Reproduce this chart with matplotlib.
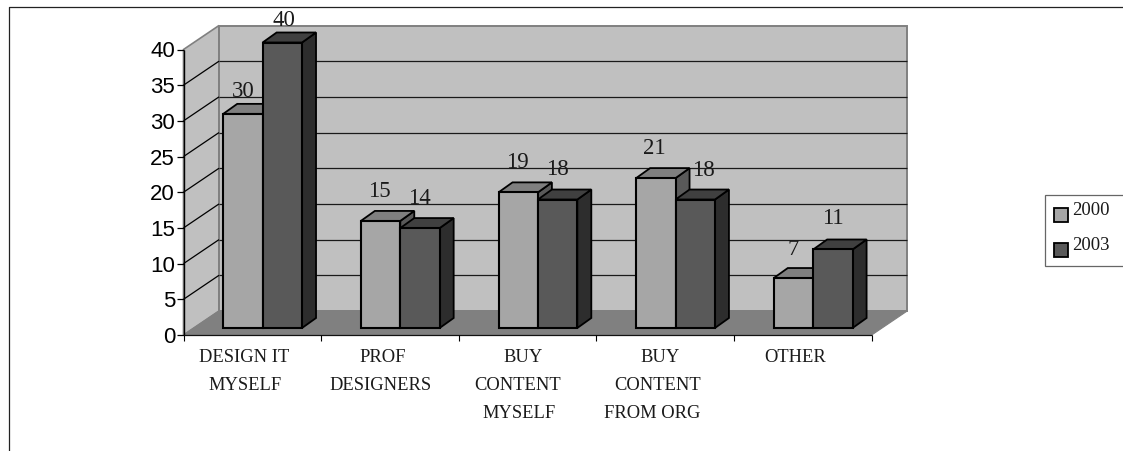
import matplotlib
matplotlib.use("Agg")
import matplotlib.pyplot as plt
from matplotlib.patches import Polygon, Rectangle
from matplotlib.lines import Line2D

categories = [
    ["DESIGN IT", "MYSELF"],
    ["PROF", "DESIGNERS"],
    ["BUY", "CONTENT", "MYSELF"],
    ["BUY", "CONTENT", "FROM ORG"],
    ["OTHER"],
]
series_names = ["2000", "2003"]
values_2000 = [30, 15, 19, 21, 7]
values_2003 = [40, 14, 18, 18, 11]
y_ticks = [0, 5, 10, 15, 20, 25, 30, 35, 40]

W, H = 1123, 451
fig = plt.figure(figsize=(W / 100, H / 100), dpi=100)

# front plane of the fake 3d box, in pixels
left, right, top, bottom = 183.5, 871.7, 49.5, 335.0
ax = fig.add_axes([left / W, 1 - bottom / H, (right - left) / W, (bottom - top) / H])
ax.set_xlim(0, len(categories))
ax.set_ylim(0, 40)
ax.axis("off")

xpx = (right - left) / len(categories)
ypx = (bottom - top) / 40
depth_x = 35.5 / xpx
depth_y = 24 / ypx


def poly(points, face, edge="none", lw=0.0, z=1):
    ax.add_patch(Polygon(points, closed=True, facecolor=face, edgecolor=edge,
                         linewidth=lw, zorder=z, clip_on=False))


def line(xs, ys, color="black", lw=0.9, z=2):
    ax.add_line(Line2D(xs, ys, color=color, linewidth=lw, zorder=z, clip_on=False,
                       solid_capstyle="butt"))


n = len(categories)
# walls and floor
poly([(0, 0), (depth_x, depth_y), (depth_x, 40 + depth_y), (0, 40)], "#c0c0c0", "#808080", 1.2)
poly([(depth_x, depth_y), (n + depth_x, depth_y), (n + depth_x, 40 + depth_y), (depth_x, 40 + depth_y)],
     "#c0c0c0", "#808080", 1.4)
poly([(0, 0), (n, 0), (n + depth_x, depth_y), (depth_x, depth_y)], "#808080", "#808080", 0.8, z=1.5)

# grid lines
for t in y_ticks[1:-1]:
    line([0, depth_x], [t, t + depth_y], z=2)
    line([depth_x, n + depth_x], [t + depth_y, t + depth_y], color="#1a1a1a", z=1.2)

# axes and ticks
line([0, 0], [0, 40], lw=1.0, z=3)
for t in y_ticks:
    line([-6.5 / xpx, 0], [t, t], lw=0.9, z=3)
    ax.text(-8.5 / xpx, t - 0.35, str(t), ha="right", va="center", fontsize=16,
            family="Liberation Sans", color="black")
line([0, n], [0, 0], color="#111111", lw=0.9, z=3)
for i in range(n + 1):
    line([i, i], [0, -6 / ypx], lw=0.8, z=3)

# bars
bar_w = 39.4 / xpx
base_x = 10.3 / xpx
base_y = 7 / ypx
bar_dx = 14 / xpx
bar_dy = 10 / ypx
gap = (1 - 2 * bar_w) / 2
styles = [
    ("#a6a6a6", "#7f7f7f", "#595959"),
    ("#595959", "#404040", "#2d2d2d"),
]
# label nudges in pixels, the original placed these by hand
label_up = [
    [22, 29, 30, 30, 29],
    [22, 30, 30, 29, 31],
]
label_right = [
    [0, -1, -1, -2, 0],
    [2, -1, 0, 8, 0],
]
for s, vals in enumerate([values_2000, values_2003]):
    front, topc, side = styles[s]
    for i, v in enumerate(vals):
        x0 = i + base_x + gap + s * bar_w
        x1 = x0 + bar_w
        z = 4 + i + s * 0.1
        poly([(x1, base_y), (x1 + bar_dx, base_y + bar_dy), (x1 + bar_dx, base_y + v + bar_dy), (x1, base_y + v)],
             side, "black", 1.3, z)
        poly([(x0, base_y + v), (x1, base_y + v), (x1 + bar_dx, base_y + v + bar_dy), (x0 + bar_dx, base_y + v + bar_dy)],
             topc, "black", 1.3, z)
        poly([(x0, base_y), (x1, base_y), (x1, base_y + v), (x0, base_y + v)],
             front, "black", 1.5, z + 0.01)
        ax.text((x0 + x1) / 2 + label_right[s][i] / xpx, base_y + v + label_up[s][i] / ypx, str(v),
                ha="center", va="center", fontsize=16.5, family="Liberation Serif",
                color="#1a1a1a", zorder=20)

# category labels, one text per line, centred by hand as in the original
cat_shift = [
    [-8, -7],
    [-7, -9],
    [-5, -10, -9],
    [-5, -8, -13],
    [-8],
]
for i, lines in enumerate(categories):
    for j, txt in enumerate(lines):
        ax.text(i + 0.5 + cat_shift[i][j] / xpx, -(22.5 + j * 28.1) / ypx, txt, ha="center", va="center",
                fontsize=13.3, family="Liberation Serif", color="#1a1a1a")

# outer frame, runs off the right and bottom edges
fig.add_artist(Line2D([8.5 / W, 8.5 / W, 1], [0, 1 - 6.5 / H, 1 - 6.5 / H], color="#222222", linewidth=0.9))

# legend
fig.add_artist(Rectangle((1044.5 / W, 1 - 266 / H), 90 / W, 71 / H, transform=fig.transFigure,
                         facecolor="white", edgecolor="#666666", linewidth=0.9))
for k, name in enumerate(series_names):
    yc = 214.5 + k * 35
    fig.add_artist(Rectangle((1053.5 / W, 1 - (yc + 7) / H), 14 / W, 14 / H, transform=fig.transFigure,
                             facecolor=styles[k][0], edgecolor="black", linewidth=1.3))
    fig.text(1072.5 / W, 1 - (yc - 4) / H, name, ha="left", va="center", fontsize=13.5,
             family="Liberation Serif", color="#1a1a1a")

fig.savefig("out.png", dpi=100, facecolor="white")
